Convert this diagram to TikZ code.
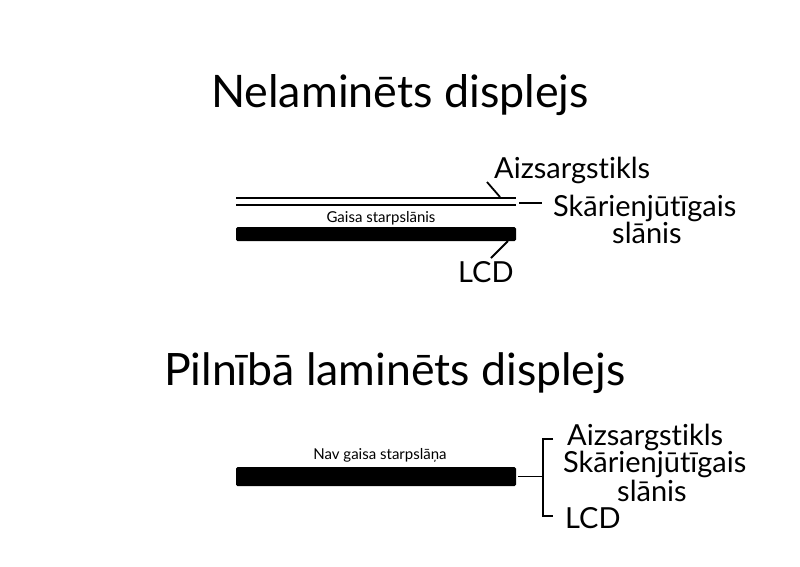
\documentclass[tikz,border=0pt]{standalone}
\usepackage{fontspec}
\setmainfont{Lato}[RawFeature={-liga;-dlig}]
\begin{document}
\begin{tikzpicture}[x=1pt,y=-1pt,
  lbl/.style={inner sep=0pt,anchor=base west},
  bar/.style={fill=black,rounded corners=1.5pt,inner sep=0pt,minimum width=280pt},
  thin/.style={line width=2.9pt},
  lead/.style={line width=1.8pt}]
\useasboundingbox (0,0) rectangle (800,566);
% titles
\node[lbl,font=\fontsize{44.8}{48}\selectfont] (t1) at (211,107) {Nelaminēts displejs};
\node[lbl,font=\fontsize{44.6}{48}\selectfont] (t2) at (164,385) {Pilnībā laminēts displejs};
% top diagram
\coordinate (g1a) at (236,198); \coordinate (g1b) at (516,198);
\coordinate (g2a) at (236,205); \coordinate (g2b) at (516,205);
\draw[thin] (g1a) -- (g1b);
\draw[thin] (g2a) -- (g2b);
\node[font=\fontsize{15}{17}\selectfont,inner sep=0pt,anchor=base] (air) at (381,222) {Gaisa starpslānis};
\node[bar,minimum height=14pt] (lcd1) at (376,234) {};
\node[lbl,font=\fontsize{29}{32}\selectfont] (a1) at (494,178) {Aizsargstikls};
\node[lbl,font=\fontsize{29}{32}\selectfont] (s1) at (553,216) {Skārienjūtīgais};
\node[lbl,font=\fontsize{29}{32}\selectfont] (s1b) at (612,243) {slānis};
\node[lbl,font=\fontsize{29}{32}\selectfont] (l1) at (458,282) {LCD};
\coordinate (pa) at (500,197); \coordinate (pa2) at (487,182);
\draw[lead] (pa) -- (pa2);
\coordinate (ps) at (519,203); \coordinate (ps2) at (542,203);
\draw[lead] (ps) -- (ps2);
\coordinate (pl) at (508,241); \coordinate (pl2) at (491,258);
\draw[lead] (pl) -- (pl2);
% bottom diagram
\node[font=\fontsize{15}{17}\selectfont,inner sep=0pt,anchor=base] (noair) at (380,459) {Nav gaisa starpslāņa};
\node[bar,minimum height=19pt] (lcd2) at (376,476.5) {};
\coordinate (bl) at (518,476.5);
\coordinate (br) at (543,476.5);
\draw[lead] (bl) -- (br);
\coordinate (bt) at (553,439); \coordinate (bb) at (553,516);
\draw[lead] (bt) -| (br) |- (bb);
\node[lbl,font=\fontsize{29}{32}\selectfont] (a2) at (567,445) {Aizsargstikls};
\node[lbl,font=\fontsize{29}{32}\selectfont] (s2) at (563,472) {Skārienjūtīgais};
\node[lbl,font=\fontsize{29}{32}\selectfont] (s2b) at (617,501) {slānis};
\node[lbl,font=\fontsize{29}{32}\selectfont] (l2) at (565,528) {LCD};
\end{tikzpicture}
\end{document}
